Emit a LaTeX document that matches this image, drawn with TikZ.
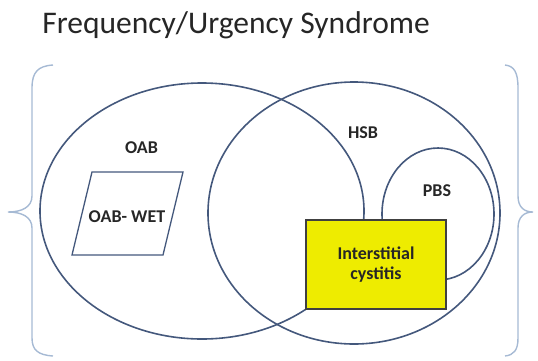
\documentclass[tikz,border=0pt]{standalone}
\usepackage{fontspec}
\setmainfont{Carlito}
\usetikzlibrary{shapes.geometric, positioning}
\definecolor{lineablu}{RGB}{68,88,124}
\definecolor{graffa}{RGB}{166,186,212}
\definecolor{giallo}{RGB}{238,236,0}
\tikzset{
  insieme/.style={draw=lineablu, line width=1.6pt, ellipse, inner sep=0pt},
  etichetta/.style={font=\bfseries\fontsize{18}{20}\selectfont, text=black!85},
  graffe/.style={draw=graffa, line width=1.4pt},
}

\begin{document}
\begin{tikzpicture}[x = 1pt, y = -1pt]

    \useasboundingbox (0,0) rectangle (538,360);

    % Titolo
    \node[anchor=base, font=\fontsize{31.5}{36}\selectfont, text=black!85] (titolo) at (236,33) {Frequency/Urgency Syndrome};

    % Graffe laterali
    \draw[graffe] (53,65) .. controls (38,66) and (32,72) .. (32,88) -- (32,196)
        .. controls (32,207) and (22,212) .. (8,212)
        .. controls (22,212) and (32,217) .. (32,228) -- (32,338)
        .. controls (32,350) and (38,355) .. (53,356);
    \draw[graffe] (505,65) .. controls (514,66) and (518,72) .. (518,88) -- (518,196)
        .. controls (518,207) and (524,212) .. (533,212)
        .. controls (524,212) and (518,217) .. (518,228) -- (518,338)
        .. controls (518,350) and (514,355) .. (505,356);

    % Insiemi OAB, HSB, PBS
    \node[insieme, minimum width=324, minimum height=256] (oab) at (202,211) {};
    \node[insieme, minimum width=292, minimum height=262] (hsb) at (354,213) {};
    \node[insieme, minimum width=112, minimum height=132] (pbs) at (438,214) {};

    % Parallelogramma OAB-WET
    \draw[draw=lineablu, line width=1.3pt] (92,172) -- (183,172) -- (163,255) -- (72,255) -- cycle;
    \node[etichetta] (wet) at (127,216.5) {OAB- WET};

    % Etichette
    \node[etichetta] (loab) at (141.5,148) {OAB};
    \node[etichetta] (lhsb) at (363,133) {HSB};
    \node[etichetta] (lpbs) at (437,191) {PBS};

    % Cistite interstiziale
    \node[draw=black!75, line width=1.6pt, fill=giallo, minimum width=140, minimum height=89,
          align=center, etichetta] (ic) at (376,264.5) {Interstitial\\cystitis};

\end{tikzpicture}
\end{document}
